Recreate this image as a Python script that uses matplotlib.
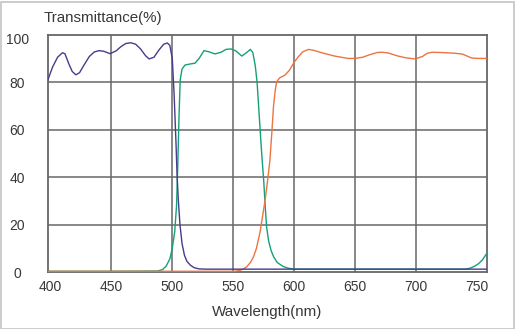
import matplotlib
matplotlib.use("Agg")
import matplotlib.pyplot as plt
from matplotlib.patches import Rectangle
from matplotlib.transforms import ScaledTranslation

plt.rcParams['font.family'] = ['Liberation Sans', 'DejaVu Sans']

# Blue (short-pass) filter
blue_wl = [398, 402, 406, 410, 412, 415, 418, 421, 424, 428, 432, 436, 440, 444, 449,
           454, 458, 462, 466, 470, 474, 478, 481, 485, 489, 493, 496, 498, 500, 501.5,
           503, 504, 505, 506.3, 508, 510, 512, 515, 518, 522, 528, 540, 600, 700, 758]
blue_t = [80.9, 86.5, 90.5, 92.4, 92, 88, 84.5, 83.1, 84, 87.5, 90.8, 92.7, 93.3, 93, 92,
          93.2, 95, 96.3, 96.6, 96, 94, 91.2, 89.8, 90.5, 93.5, 96, 96.5, 95.5, 90, 75,
          55, 40, 30, 20, 12, 7, 4.5, 2.8, 1.8, 1.3, 1.2, 1.2, 1.2, 1.2, 1.2]

# Green (band-pass) filter
green_wl = [398, 450, 488, 492, 495, 498, 500, 502, 503.5, 504.5, 505.5, 506.5, 508, 510.4,
            514, 518.6, 522, 526, 530, 535, 540, 544, 548, 552, 557, 561, 564, 566, 568,
            569.5, 571, 573, 575, 576, 577.3, 579, 581, 583, 586, 591, 595, 600, 650, 700,
            740, 744, 748, 751, 754, 758]
green_t = [0.3, 0.3, 0.4, 1.0, 2.5, 5.5, 10, 17, 28, 45, 65, 81, 85.5, 87.2,
           87.6, 88, 90, 93.3, 92.8, 91.9, 92.6, 93.8, 94, 93.2, 91, 92.5, 93.8, 92.5, 87,
           80, 68, 52, 38, 29, 19, 13, 9, 6.5, 4, 2.3, 1.6, 1.2, 1.2, 1.2,
           1.2, 1.6, 2.5, 3.5, 5, 8]

# Orange (long-pass) filter
orange_wl = [398, 500, 551, 555, 558, 561, 564, 566.6, 569, 572, 576, 578, 580, 581.5, 583,
             584.5, 585.6, 588, 592.4, 596, 600, 603.3, 607, 611.6, 616, 622.5, 633, 644,
             650, 656, 662, 668, 672, 677, 685, 692, 699, 705, 709, 713, 720, 731.7, 738,
             745.3, 750, 758]
orange_t = [0.3, 0.3, 0.3, 0.6, 1.2, 2.2, 4, 6.4, 10, 17, 30, 38, 47, 58, 70,
            77, 80.2, 81.8, 83, 85, 88.5, 90.7, 92.8, 93.8, 93.4, 92.4, 91, 90,
            90, 90.5, 91.6, 92.5, 92.6, 92.3, 91, 90.2, 89.8, 90.8, 92.2, 92.6, 92.5, 92.2, 91.8,
            90.2, 90, 90]

x_ticks = [400, 450, 500, 550, 600, 650, 700, 750]
x_grid = [450, 500, 550, 600, 650, 700]
y_ticks = [0, 20, 40, 60, 80, 100]

W, H = 515, 329
fig = plt.figure(figsize=(W / 100, H / 100), dpi=100)
fig.patch.set_facecolor('white')
fig.add_artist(Rectangle((0.5 / W, 0.5 / H), 1 - 2 / W, 1 - 2 / H, transform=fig.transFigure,
                         fill=False, edgecolor='#c4c4c4', lw=1.2))

ax = fig.add_axes([47.7 / W, 1 - 272 / H, (486.7 - 47.7) / W, (272 - 34.7) / H])
ax.set_xlim(397.9, 757.7)
ax.set_ylim(0, 100)

grid_c = '#676767'
for xv in x_grid:
    ax.axvline(xv, color=grid_c, lw=1.1, zorder=1)
for yv in [20, 40, 60, 80]:
    ax.axhline(yv, color=grid_c, lw=1.1, zorder=1)
for s in ax.spines.values():
    s.set_color(grid_c)
    s.set_linewidth(1.3)

ax.plot(green_wl, green_t, color='#15a078', lw=1.0, zorder=3)
ax.plot(orange_wl, orange_t, color='#ec7440', lw=1.0, zorder=3)
ax.plot(blue_wl, blue_t, color='#463c8c', lw=1.0, zorder=4)

txt_c = '#383838'
ax.set_xticks(x_ticks)
ax.set_xticklabels([str(v) for v in x_ticks])
ax.set_yticks(y_ticks)
ax.set_yticklabels([str(v) for v in y_ticks])
ax.tick_params(axis='both', length=0, labelsize=10, colors=txt_c)
ax.tick_params(axis='x', pad=6)
ax.tick_params(axis='y', pad=22)
for lab in ax.get_yticklabels():
    lab.set_horizontalalignment('center')
ylabs = ax.get_yticklabels()
ylabs[-1].set_transform(ylabs[-1].get_transform() + ScaledTranslation(0, -0.04, fig.dpi_scale_trans))

fig.text(44 / W, 1 - 17.7 / H, 'Transmittance(%)', fontsize=10.9, color=txt_c,
         ha='left', va='center')
fig.text(267.5 / W, 1 - 312.3 / H, 'Wavelength(nm)', fontsize=10.9, color=txt_c,
         ha='center', va='center')

fig.savefig('out.png', dpi=100, facecolor='white')
